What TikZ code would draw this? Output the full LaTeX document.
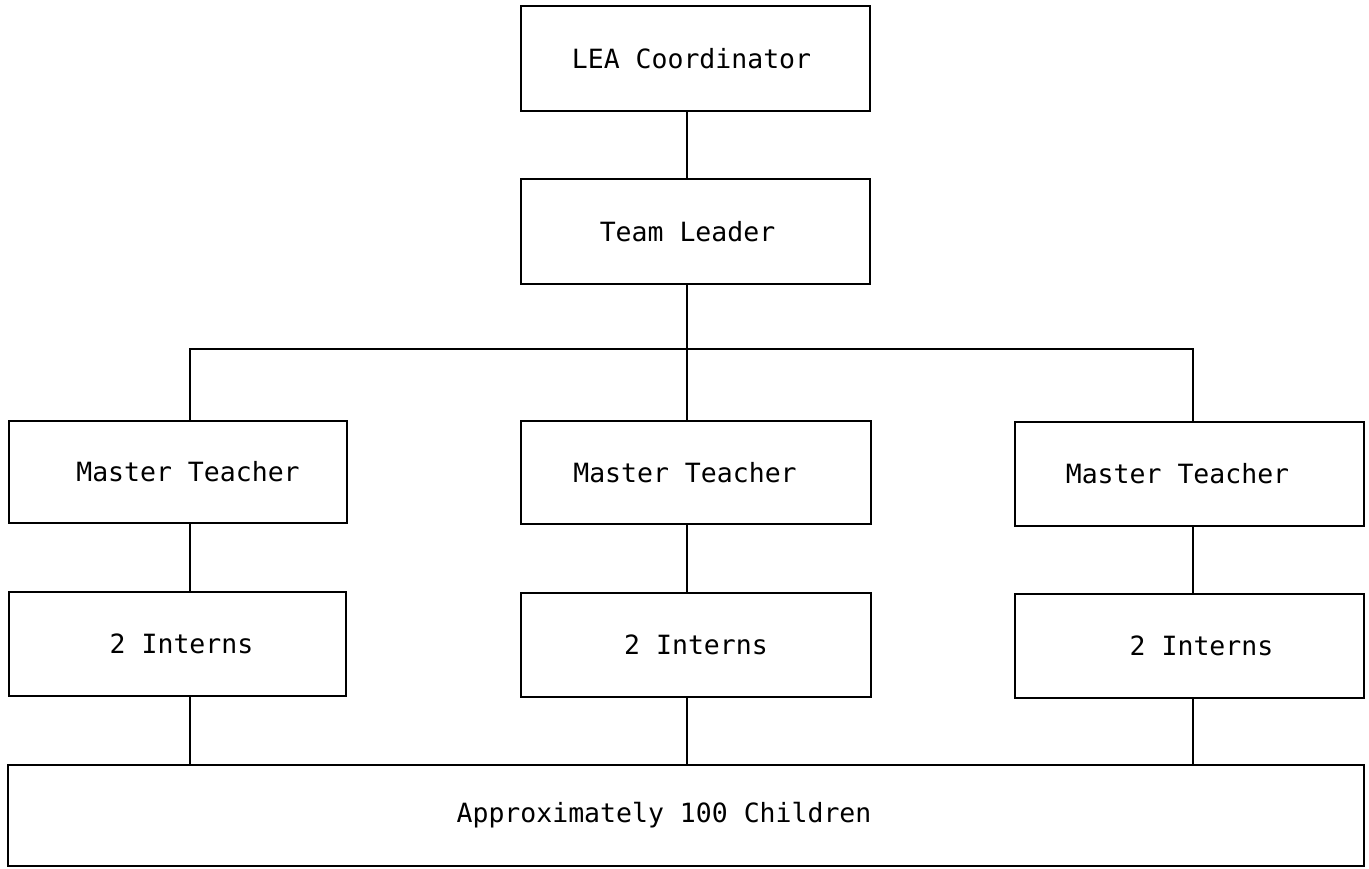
\documentclass[tikz,border=0pt]{standalone}
\usepackage{fontspec}
\setmonofont{DejaVu Sans Mono}
\begin{document}
\begin{tikzpicture}[x=1pt,y=-1pt,
  box/.style={draw, line width=2.1pt, inner sep=0pt, outer sep=0pt,
    font=\ttfamily\fontsize{26.5}{30}\selectfont},
  conn/.style={line width=1.3pt}]
\useasboundingbox (0,0) rectangle (1369,869);
\fill[white] (0,0) rectangle (1369,869);

\node[box, minimum width=349pt, minimum height=105pt] (lea) at (695.5,58.5) {LEA Coordinator\hspace*{8pt}};
\node[box, minimum width=349pt, minimum height=105pt] (tl)  at (695.5,231.5) {Team Leader\hspace*{16pt}};

\node[box, minimum width=338pt, minimum height=102pt] (mtl) at (178,472) {\hspace*{20pt}Master Teacher};
\node[box, minimum width=350pt, minimum height=103pt] (mtm) at (696,472.5) {Master Teacher\hspace*{22pt}};
\node[box, minimum width=349pt, minimum height=104pt] (mtr) at (1189.5,474) {Master Teacher\hspace*{24pt}};

\node[box, minimum width=337pt, minimum height=104pt] (inl) at (177.5,644) {\hspace*{8pt}2 Interns};
\node[box, minimum width=350pt, minimum height=104pt] (inm) at (696,645) {2 Interns};
\node[box, minimum width=349pt, minimum height=104pt] (inr) at (1189.5,646) {\hspace*{24pt}2 Interns};

\node[box, minimum width=1356pt, minimum height=101pt] (bot) at (686,815.5) {Approximately 100 Children\hspace*{44pt}};

\coordinate (lx) at (190,349);
\coordinate (mx) at (687,349);
\coordinate (rx) at (1193,349);

\draw[conn] (lea.south -| mx) -- (tl.north -| mx);
\draw[conn] (tl.south -| mx) -- (mtm.north -| mx);
\draw[conn] (mtl.north -| lx) -- (lx) -- (rx) -- (mtr.north -| rx);

\draw[conn] (mtl.south -| lx) -- (inl.north -| lx);
\draw[conn] (mtm.south -| mx) -- (inm.north -| mx);
\draw[conn] (mtr.south -| rx) -- (inr.north -| rx);

\draw[conn] (inl.south -| lx) -- (bot.north -| lx);
\draw[conn] (inm.south -| mx) -- (bot.north -| mx);
\draw[conn] (inr.south -| rx) -- (bot.north -| rx);
\end{tikzpicture}
\end{document}
